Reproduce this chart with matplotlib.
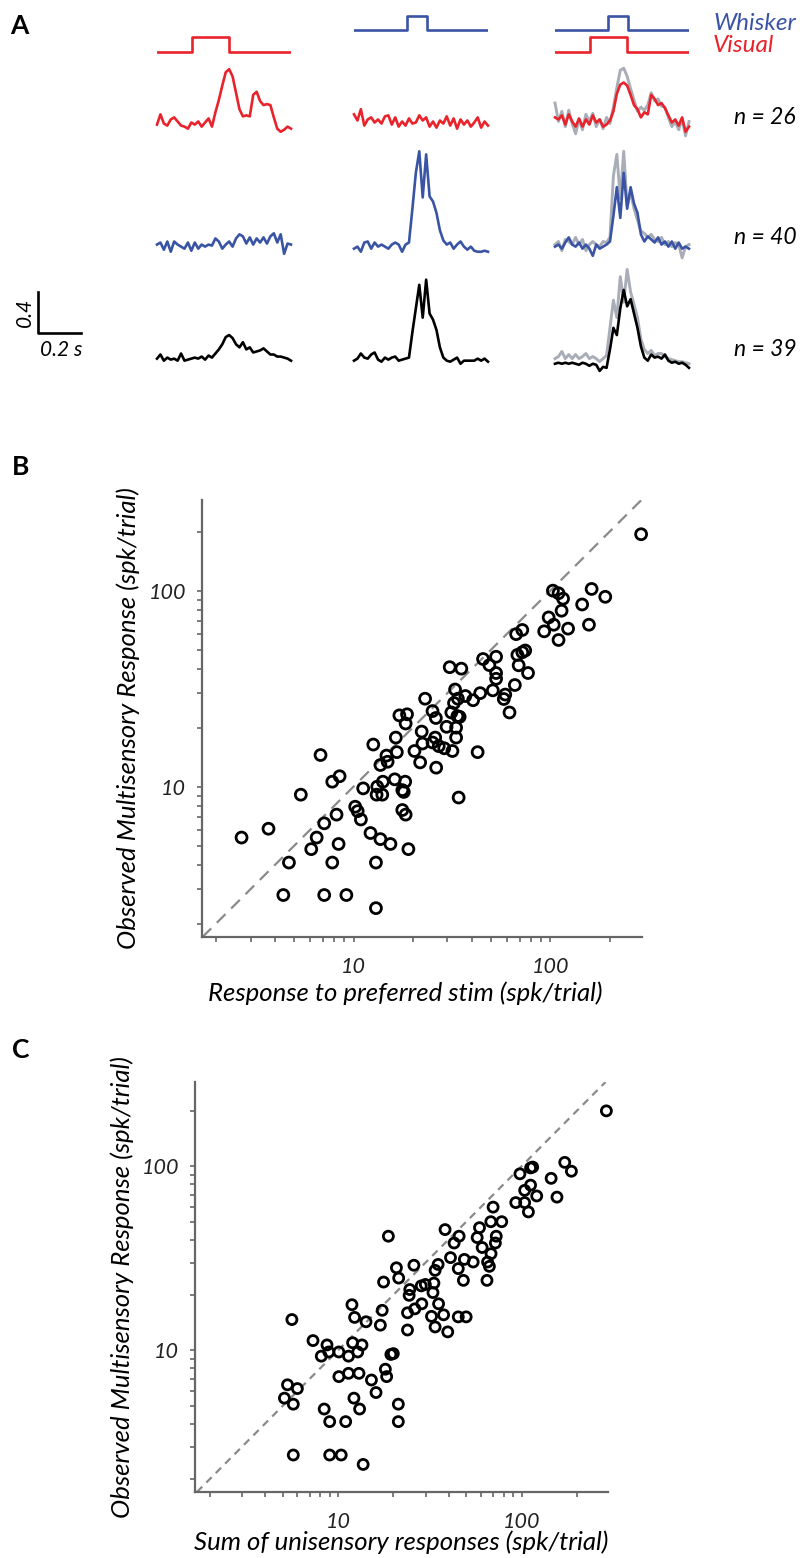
import numpy as np
import matplotlib
matplotlib.use("Agg")
import matplotlib.pyplot as plt
from matplotlib.ticker import LogLocator, NullFormatter, FuncFormatter

plt.rcParams['font.family'] = ['Lato', 'DejaVu Sans']
plt.rcParams['font.style'] = 'italic'

W, H = 800, 1558
fig = plt.figure(figsize=(W / 100, H / 100), dpi=100)


def px_axes(x, y, w, h):
    # place an axes by its pixel box (top-left origin)
    return fig.add_axes([x / W, 1 - (y + h) / H, w / W, h / H])


RED = '#e8232b'
BLUE = '#3a54a5'
GRAY = '#a8adb7'
AXC = '#666666'

# ---------------- panel A: population PSTHs ----------------
T = 0.625                      # s shown per trace
t = np.linspace(0, T, 40)
vis_on, vis_off = 0.165, 0.335
whisk_on, whisk_off = 0.245, 0.34

# visual neurons (n = 26)
vis_V = [0.17, 0.27, 0.18, 0.16, 0.22, 0.24, 0.20, 0.16, 0.15, 0.13, 0.19, 0.17, 0.20, 0.15,
         0.19, 0.23, 0.15, 0.29, 0.41, 0.55, 0.68, 0.71, 0.64, 0.48, 0.32, 0.25, 0.26, 0.25,
         0.46, 0.49, 0.40, 0.36, 0.37, 0.36, 0.24, 0.13, 0.10, 0.12, 0.15, 0.13]
vis_W = [0.27, 0.21, 0.32, 0.16, 0.22, 0.24, 0.19, 0.22, 0.18, 0.25, 0.26, 0.17, 0.24, 0.15,
         0.20, 0.16, 0.23, 0.18, 0.19, 0.26, 0.21, 0.24, 0.15, 0.20, 0.14, 0.21, 0.18, 0.25,
         0.16, 0.23, 0.13, 0.22, 0.17, 0.21, 0.15, 0.19, 0.24, 0.14, 0.20, 0.16]
vis_VW = [0.24, 0.22, 0.26, 0.17, 0.27, 0.20, 0.15, 0.23, 0.15, 0.22, 0.17, 0.26, 0.19, 0.22,
          0.15, 0.17, 0.21, 0.30, 0.47, 0.56, 0.58, 0.55, 0.46, 0.36, 0.32, 0.24, 0.29, 0.27,
          0.46, 0.42, 0.36, 0.38, 0.33, 0.26, 0.19, 0.22, 0.16, 0.24, 0.10, 0.15]
vis_sum = [0.38, 0.20, 0.30, 0.15, 0.31, 0.18, 0.08, 0.22, 0.12, 0.27, 0.20, 0.28, 0.15, 0.22,
           0.13, 0.24, 0.18, 0.34, 0.53, 0.70, 0.72, 0.64, 0.52, 0.41, 0.30, 0.34, 0.31, 0.36,
           0.48, 0.40, 0.42, 0.35, 0.34, 0.24, 0.15, 0.20, 0.12, 0.22, 0.06, 0.20]

# whisker neurons (n = 40)
whk_V = [0.17, 0.19, 0.12, 0.20, 0.10, 0.20, 0.17, 0.15, 0.13, 0.19, 0.11, 0.19, 0.13, 0.17,
         0.15, 0.17, 0.16, 0.23, 0.20, 0.13, 0.17, 0.20, 0.15, 0.23, 0.27, 0.25, 0.18, 0.24,
         0.17, 0.23, 0.19, 0.24, 0.18, 0.25, 0.28, 0.19, 0.27, 0.08, 0.18, 0.17]
whk_W = [0.13, 0.15, 0.10, 0.19, 0.20, 0.13, 0.19, 0.15, 0.17, 0.15, 0.13, 0.17, 0.19, 0.17,
         0.10, 0.17, 0.19, 0.52, 0.87, 1.08, 0.63, 1.05, 0.64, 0.59, 0.48, 0.31, 0.21, 0.17,
         0.19, 0.13, 0.17, 0.20, 0.15, 0.12, 0.15, 0.11, 0.10, 0.10, 0.11, 0.10]
whk_VW = [0.15, 0.17, 0.13, 0.19, 0.24, 0.17, 0.15, 0.19, 0.13, 0.17, 0.13, 0.06, 0.17, 0.13,
          0.15, 0.17, 0.20, 0.45, 0.73, 0.43, 0.87, 0.52, 0.73, 0.57, 0.48, 0.27, 0.20, 0.25,
          0.22, 0.19, 0.24, 0.17, 0.20, 0.15, 0.20, 0.13, 0.19, 0.13, 0.15, 0.13]
whk_sum = [0.17, 0.20, 0.11, 0.22, 0.20, 0.17, 0.24, 0.17, 0.22, 0.11, 0.17, 0.20, 0.17, 0.15,
           0.20, 0.19, 0.24, 0.84, 1.05, 0.62, 1.08, 0.55, 0.68, 0.52, 0.41, 0.30, 0.28, 0.24,
           0.27, 0.22, 0.20, 0.24, 0.17, 0.20, 0.15, 0.19, 0.17, 0.04, 0.15, 0.17]

# bimodal neurons (n = 39)
bim_V = [0.15, 0.19, 0.13, 0.16, 0.14, 0.15, 0.13, 0.20, 0.13, 0.14, 0.15, 0.16, 0.15, 0.17,
         0.14, 0.18, 0.16, 0.20, 0.24, 0.29, 0.36, 0.38, 0.35, 0.29, 0.26, 0.31, 0.24, 0.26,
         0.21, 0.22, 0.23, 0.25, 0.22, 0.19, 0.19, 0.17, 0.17, 0.16, 0.15, 0.13]
bim_W = [0.13, 0.15, 0.20, 0.16, 0.15, 0.19, 0.21, 0.14, 0.12, 0.16, 0.14, 0.16, 0.17, 0.13,
         0.14, 0.15, 0.16, 0.41, 0.64, 0.87, 0.55, 0.92, 0.59, 0.53, 0.43, 0.26, 0.16, 0.13,
         0.12, 0.14, 0.16, 0.10, 0.13, 0.13, 0.13, 0.13, 0.15, 0.13, 0.15, 0.12]
bim_VW = [0.10, 0.11, 0.10, 0.11, 0.10, 0.11, 0.10, 0.09, 0.11, 0.10, 0.08, 0.10, 0.09, 0.03,
          0.07, 0.06, 0.24, 0.45, 0.38, 0.64, 0.82, 0.66, 0.73, 0.59, 0.45, 0.27, 0.16, 0.13,
          0.19, 0.16, 0.17, 0.15, 0.19, 0.13, 0.11, 0.12, 0.10, 0.11, 0.09, 0.06]
bim_sum = [0.15, 0.17, 0.22, 0.15, 0.19, 0.15, 0.19, 0.15, 0.17, 0.20, 0.15, 0.17, 0.15, 0.12,
           0.15, 0.18, 0.45, 0.72, 0.55, 0.95, 0.70, 1.02, 0.80, 0.68, 0.55, 0.34, 0.24, 0.20,
           0.23, 0.18, 0.20, 0.20, 0.17, 0.15, 0.14, 0.13, 0.12, 0.12, 0.11, 0.10]

n_cells = [26, 40, 39]

# ---------------- panels B and C: scatter data ----------------
pref_stim = [289, 103, 110, 116, 162, 190, 145, 114, 98, 104, 123, 157, 93, 110, 72, 67, 74.5,
             72, 68, 69, 77, 53, 45.5, 49, 53, 53, 51, 59, 58, 66, 62, 44, 40.5, 37, 30.8, 35.3,
             32.8, 33.9, 32.4, 31.4, 33.7, 34.6, 33.2, 29.7, 33.2, 31.8, 28.9, 27.1, 26, 25.2,
             26.2, 25.2, 23.1, 22.2, 22.4, 20.4, 21.8, 26.3, 42.7, 34.2, 18.7, 17.1, 18.4, 16.4,
             16.6, 14.7, 14.9, 13.7, 12.6, 16.2, 18.3, 14.1, 17.7, 18.0, 13.2, 13.1, 14.0, 11.2,
             10.2, 10.5, 10.9, 12.2, 13.7, 15.4, 13.0, 17.7, 18.4, 19.0, 8.5, 7.8, 6.8, 5.4, 8.2,
             7.1, 6.5, 6.1, 8.4, 7.8, 4.7, 3.7, 2.7, 4.4, 7.1, 9.2, 13.0]
multi_b = [194, 100, 97, 91, 102, 93, 85, 79, 73, 67, 64, 67, 62, 56, 63, 60, 49.5, 48.5, 47,
           41.6, 38, 46, 44.8, 41.7, 38, 35.5, 31, 29.5, 28, 33, 23.9, 30, 27.6, 29, 40.7, 40,
           31.3, 28.1, 26.7, 23.9, 22.9, 22.7, 20, 20.2, 17.8, 15.2, 15.7, 16.1, 17.8, 16.8,
           22.4, 24.3, 28.1, 19.1, 16.6, 15.2, 13.3, 12.5, 15.0, 8.8, 23.4, 23.1, 21.0, 17.8,
           15.0, 14.4, 13.4, 12.9, 16.4, 10.9, 10.6, 10.6, 9.6, 9.4, 10, 9.1, 9.1, 9.8, 7.9,
           7.5, 6.8, 5.8, 5.4, 5.1, 4.1, 7.6, 7.2, 4.8, 11.3, 10.6, 14.5, 9.1, 7.2, 6.5, 5.5,
           4.8, 5.1, 4.1, 4.1, 6.1, 5.5, 2.8, 2.8, 2.8, 2.4]

uni_sum = [290, 98, 112, 115, 172, 187, 145, 112, 104, 121, 156, 93, 104, 109, 70, 68, 78, 59,
           57.3, 72.8, 61, 72, 68.2, 65.3, 66.8, 64.8, 54.5, 48.8, 45.2, 48.2, 41.0, 42.9, 45.7,
           38.3, 35.1, 33.8, 33.3, 32.9, 35.3, 37.6, 32.3, 33.8, 39.6, 45.2, 49.9, 29.9, 28.4,
           28.6, 26.2, 24.4, 24.6, 23.9, 23.9, 25.9, 20.8, 21.4, 17.7, 18.8, 17.4, 17.0, 14.2,
           11.9, 12.3, 12.0, 12.8, 13.5, 11.4, 10.1, 8.7, 8.9, 8.1, 7.3, 10.1, 11.4, 13.0, 15.2,
           16.1, 18.1, 18.4, 19.4, 20.0, 21.3, 21.3, 12.2, 13.1, 8.4, 9.0, 11.0, 5.6, 5.3, 6.0,
           5.1, 5.7, 5.7, 9.0, 10.4, 13.7]
multi_c = [200, 91, 98, 99, 105, 94, 86, 79, 74, 69, 68, 63.5, 63.5, 56.5, 60, 50, 50, 46.4,
           41, 41.7, 36.2, 38.3, 33.5, 30.2, 28.6, 24.0, 30.2, 31.2, 27.8, 24.0, 31.9, 38.3,
           41.7, 45.3, 29.3, 27.2, 23.2, 20.6, 17.9, 15.6, 15.3, 13.4, 12.6, 15.2, 15.2, 22.8,
           22.4, 17.9, 16.8, 19.9, 21.4, 16.0, 12.9, 29.0, 28.1, 24.7, 23.5, 41.7, 16.5, 13.7,
           14.3, 17.7, 15.1, 11.0, 9.8, 10.7, 9.3, 9.8, 10.7, 9.8, 9.3, 11.3, 7.2, 7.5, 7.5,
           6.9, 5.9, 7.9, 7.2, 9.5, 9.6, 5.1, 4.1, 5.5, 4.8, 4.8, 4.1, 4.1, 14.7, 6.5, 6.2, 5.5,
           5.1, 2.7, 2.7, 2.7, 2.4]

# ---------------- draw panel A ----------------
PX_S = 214.4        # px per second
PX_U = 102.5        # px per response unit (0.4 -> 41 px)
TW = T * PX_S
col_x = [157, 354, 555]
row_zero = [142, 262, 374]
YLO, YHI = -0.2, 1.25

rows = [
    (RED, [vis_V, vis_W, vis_VW], vis_sum),
    (BLUE, [whk_V, whk_W, whk_VW], whk_sum),
    ('black', [bim_V, bim_W, bim_VW], bim_sum),
]
for r, (color, traces, summed) in enumerate(rows):
    top = row_zero[r] - YHI * PX_U
    for c in range(3):
        ax = px_axes(col_x[c], top, TW, (YHI - YLO) * PX_U)
        ax.set_xlim(0, T)
        ax.set_ylim(YLO, YHI)
        ax.axis('off')
        if c == 2:
            ax.plot(t, summed, color=GRAY, lw=2.1, clip_on=False)
        ax.plot(t, traces[c], color=color, lw=1.9, clip_on=False)
    fig.text(734 / W, 1 - (row_zero[r] - 24) / H, f'n = {n_cells[r]}',
             fontsize=16.5, va='center', ha='left')

# stimulus timing
STEP = 0.14
for c in range(3):
    ax = px_axes(col_x[c], 0, TW, 60)
    ax.set_xlim(0, T)
    ax.set_ylim(0, 60 / PX_U)
    ax.axis('off')
    if c in (1, 2):
        ax.plot([0, whisk_on, whisk_on, whisk_off, whisk_off, T],
                np.array([0, 0, STEP, STEP, 0, 0]) + 0.29, color=BLUE, lw=1.9)
    if c in (0, 2):
        ax.plot([0, vis_on, vis_on, vis_off, vis_off, T],
                np.array([0, 0, STEP, STEP, 0, 0]) + 0.08, color=RED, lw=1.9)

fig.text(713 / W, 1 - 23 / H, 'Whisker', color=BLUE, fontsize=17.5, va='center')
fig.text(713 / W, 1 - 45 / H, 'Visual', color=RED, fontsize=17.5, va='center')

# scale bar
sb = px_axes(38, 333 - 0.5 * PX_U, 0.3 * PX_S, 0.5 * PX_U)
sb.set_xlim(0, 0.3)
sb.set_ylim(0, 0.5)
sb.axis('off')
sb.plot([0, 0, 0.2], [0.4, 0, 0], color='black', lw=1.9, clip_on=False)
fig.text(25 / W, 1 - 312 / H, '0.4', rotation=90, fontsize=15, ha='center', va='center')
fig.text(61 / W, 1 - 350 / H, '0.2 s', fontsize=15, ha='center', va='center')


# ---------------- panels B, C ----------------
def log_panel(rect, x, y, xlim, ylim, xlabel, label_x, label_dy, ylabel_x, size, dash):
    ax = px_axes(*rect)
    ax.scatter(x, y, s=size, facecolors='none', edgecolors='black', linewidths=2.0,
               zorder=3, clip_on=False)
    ax.axline((1, 1), (100, 100), color='#8a8a8a', lw=1.6, ls=(0, dash), zorder=1)
    ax.set_xscale('log')
    ax.set_yscale('log')
    ax.set_xlim(xlim)
    ax.set_ylim(ylim)
    for s in ('top', 'right'):
        ax.spines[s].set_visible(False)
    for s in ('left', 'bottom'):
        ax.spines[s].set_color(AXC)
        ax.spines[s].set_linewidth(1.6)
    for axis in (ax.xaxis, ax.yaxis):
        axis.set_major_locator(LogLocator(base=10))
        axis.set_minor_locator(LogLocator(base=10, subs=np.arange(2, 10)))
        axis.set_major_formatter(FuncFormatter(lambda v, p: f'{v:g}'))
        axis.set_minor_formatter(NullFormatter())
    ax.tick_params(which='both', direction='out', length=3.5, width=1.2, color=AXC,
                   labelsize=15.5, labelcolor='#222222')
    ax.tick_params(axis='y', pad=8)
    ax.tick_params(axis='x', pad=11)
    ax.set_xlabel(xlabel, fontsize=18.5, va='center')
    ax.xaxis.set_label_coords(label_x, -label_dy / rect[3])
    ax.set_ylabel('Observed Multisensory Response (spk/trial)', fontsize=18.5, va='center')
    ax.yaxis.set_label_coords(ylabel_x, 0.5)
    return ax


log_panel((202, 500, 440, 437), pref_stim, multi_b, (1.70, 292), (1.71, 290),
          'Response to preferred stim (spk/trial)', (405 - 202) / 440, 56, (128 - 202) / 440,
          62, (5.5, 3.6))
log_panel((195, 1082, 413, 410), uni_sum, multi_c, (1.66, 296), (1.70, 287),
          'Sum of unisensory responses (spk/trial)', 0.5, 50, (122 - 195) / 413,
          52, (3.4, 2.6))

for letter, (lx, ly) in zip('ABC', [(10, 26), (12, 467), (12, 1050)]):
    fig.text(lx / W, 1 - ly / H, letter, fontsize=19, fontweight='bold', style='normal',
             va='center', ha='left')

fig.savefig('out.png', dpi=100)
